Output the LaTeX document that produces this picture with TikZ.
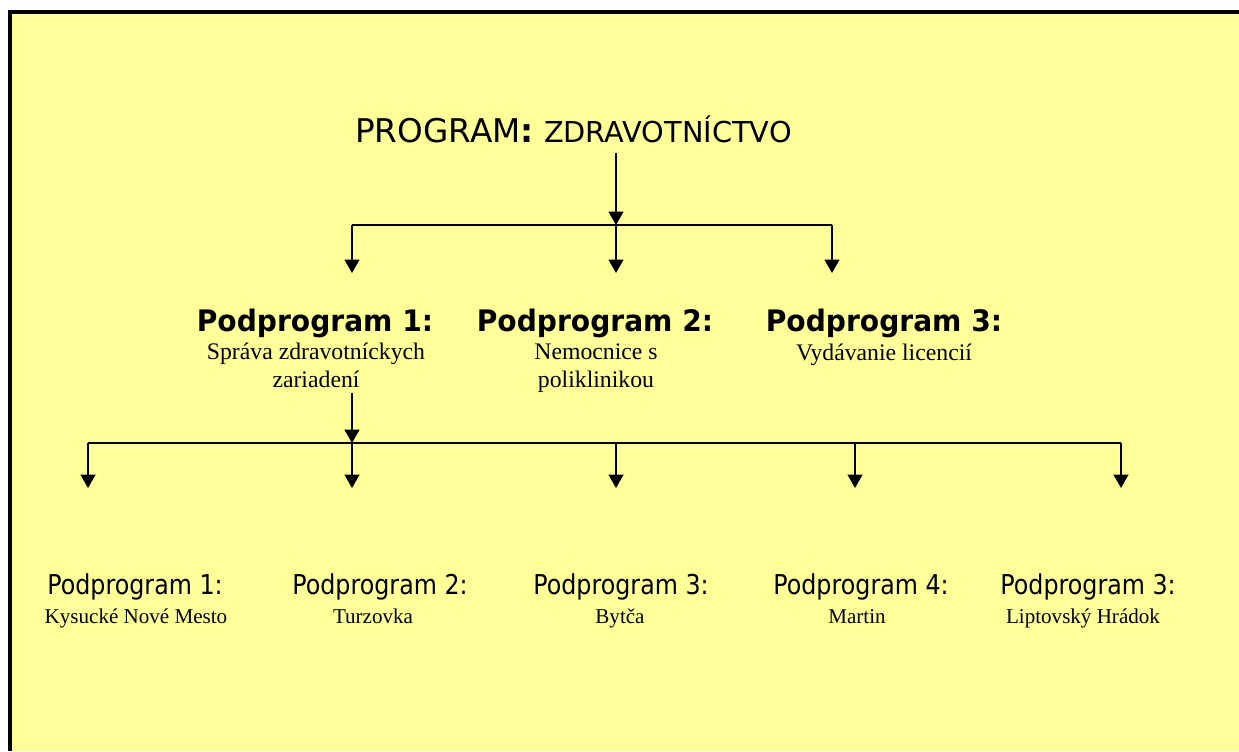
\documentclass[tikz,border=0pt]{standalone}
\usepackage{fontspec}
\setmainfont{Liberation Serif}
\newfontfamily\titlefont{DejaVu Sans}
\newfontfamily\headfont[FakeStretch=0.95]{DejaVu Sans}
\newfontfamily\leaffont[FakeStretch=0.87]{DejaVu Sans}
\usetikzlibrary{arrows.meta}
\definecolor{paper}{HTML}{FFFF99}
\tikzset{
  link/.style={line width=1.5pt},
  drop/.style={link,-{Triangle[width=11pt,length=10pt]}},
  head/.style={inner sep=0pt,anchor=base,font=\headfont\bfseries\fontsize{22.2}{26}\selectfont},
  desc/.style={inner sep=0pt,anchor=base,align=center,font=\fontsize{17.8}{20.3}\selectfont},
  leafhead/.style={inner sep=0pt,anchor=base,font=\leaffont\fontsize{20.5}{24}\selectfont},
  leafdesc/.style={inner sep=0pt,anchor=base,font=\fontsize{15.8}{18}\selectfont},
}
\begin{document}
\begin{tikzpicture}[x=0.75pt,y=-0.75pt]
  % page with a black frame on the left and top
  \useasboundingbox (0,0) rectangle (1239,751);
  \fill[white] (0,0) rectangle (1239,751);
  \fill[black] (8,10) rectangle (1239,751);
  \fill[paper] (12,14) rectangle (1239,751);

  % programme title
  \node[inner sep=0pt,anchor=base west] (prog) at (355,142)
    {\titlefont\fontsize{24.5}{29}\selectfont PROGRAM\textbf{:}\ \fontsize{21.6}{25}\selectfont ZDRAVOTNÍCTVO};

  % first-level subprogrammes (base = baseline of the last line)
  \node[head] (sp1) at (315,331) {Podprogram 1:};
  \node[head] (sp2) at (595,331) {Podprogram 2:};
  \node[head] (sp3) at (884,331) {Podprogram 3:};
  \node[desc] (sd1) at (316,387) {Správa zdravotníckych\\zariadení};
  \node[desc] (sd2) at (596,387) {Nemocnice s\\poliklinikou};
  \node[desc] (sd3) at (884,360) {Vydávanie licencií};

  % facilities
  \node[leafhead] (f1) at (135,594) {Podprogram 1:};
  \node[leafhead] (f2) at (380,594) {Podprogram 2:};
  \node[leafhead] (f3) at (621,594) {Podprogram 3:};
  \node[leafhead] (f4) at (861,594) {Podprogram 4:};
  \node[leafhead] (f5) at (1088,594) {Podprogram 3:};
  \node[leafdesc] (g1) at (136,623) {Kysucké Nové Mesto};
  \node[leafdesc] (g2) at (373,623) {Turzovka};
  \node[leafdesc] (g3) at (620,623) {Bytča};
  \node[leafdesc] (g4) at (857,623) {Martin};
  \node[leafdesc] (g5) at (1083,623) {Liptovský Hrádok};

  % branch points of the tree
  \coordinate (progfoot) at (616,153);
  \coordinate (hubA) at (616,225);
  \coordinate (hubAl) at (352,225);
  \coordinate (hubAr) at (832,225);
  \coordinate (tipA1) at (352,273);
  \coordinate (tipA2) at (616,273);
  \coordinate (tipA3) at (832,273);

  \coordinate (sdfoot) at (352,393);
  \coordinate (hubB) at (352,443);
  \coordinate (hubBl) at (88,443);
  \coordinate (hubBr) at (1121,443);
  \coordinate (tipB1) at (88,488);
  \coordinate (tipB2) at (352,488);
  \coordinate (tipB3) at (616,488);
  \coordinate (tipB4) at (855,488);
  \coordinate (tipB5) at (1121,488);

  % programme -> subprogrammes
  \draw[drop] (progfoot) -- (hubA);
  \draw[link] (hubAl) -- (hubAr);
  \draw[drop] (hubAl) -- (tipA1);
  \draw[drop] (hubA) -- (tipA2);
  \draw[drop] (hubAr) -- (tipA3);

  % subprogramme 1 -> facilities
  \draw[drop] (sdfoot) -- (hubB);
  \draw[link] (hubBl) -- (hubBr);
  \draw[drop] (hubBl) -- (tipB1);
  \draw[drop] (hubB) -- (tipB2);
  \draw[drop] (hubB -| tipB3) -- (tipB3);
  \draw[drop] (hubB -| tipB4) -- (tipB4);
  \draw[drop] (hubBr) -- (tipB5);
\end{tikzpicture}
\end{document}
